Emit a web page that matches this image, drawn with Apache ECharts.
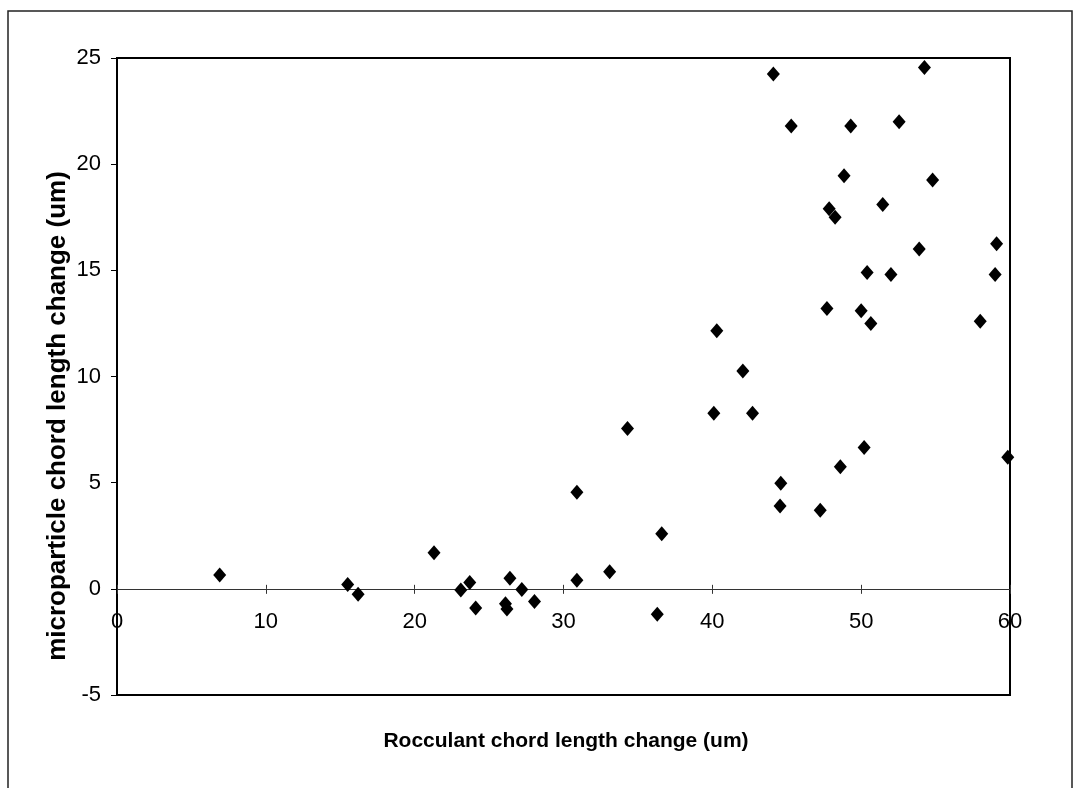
<!DOCTYPE html>
<html>
<head>
<meta charset="utf-8">
<script src="https://cdn.jsdelivr.net/npm/echarts@6/dist/echarts.min.js"></script>
<style>
html,body{margin:0;padding:0;background:#fff;}
#chart{width:1075px;height:788px;}
</style>
</head>
<body>
<div id="chart"></div>
<script>
// Flocculant chord length change (um)
var xValues = [6.9, 15.5, 16.2, 21.3, 23.1, 23.7, 24.1, 26.4, 26.1, 26.2, 27.2, 28.05, 30.9, 30.9, 33.1, 34.3, 36.6, 36.3, 40.1, 40.3, 42.05, 42.7, 44.6, 44.55, 47.25, 48.6, 50.2, 44.1, 45.3, 49.3, 52.55, 54.25, 48.85, 54.8, 47.85, 48.25, 51.45, 53.9, 59.1, 50.4, 52.0, 59.0, 47.7, 50.0, 50.65, 58.0, 59.85];
// microparticle chord length change (um)
var yValues = [0.65, 0.2, -0.25, 1.7, -0.05, 0.3, -0.9, 0.5, -0.7, -0.95, -0.03, -0.6, 0.4, 4.55, 0.8, 7.55, 2.6, -1.2, 8.27, 12.15, 10.26, 8.27, 4.97, 3.9, 3.7, 5.75, 6.66, 24.25, 21.8, 21.8, 22.0, 24.55, 19.45, 19.25, 17.9, 17.5, 18.1, 16.0, 16.25, 14.9, 14.8, 14.8, 13.2, 13.1, 12.5, 12.6, 6.2];
var xTitle = 'Rocculant chord length change (um)';
var yTitle = 'microparticle chord length change (um)';
var xRange = [0, 60, 10];
var yRange = [-5, 25, 5];

var points = xValues.map(function (x, i) { return [x, yValues[i]]; });
var FONT = '"Liberation Sans", Arial, sans-serif';

var GRID_TOP = 58, GRID_BOTTOM = 93, CHART_H = 788;
var plotH = CHART_H - GRID_TOP - GRID_BOTTOM;
// shift x axis from the bottom edge up to the y = 0 line
var zeroOffset = -plotH * (0 - yRange[0]) / (yRange[1] - yRange[0]);

var chart = echarts.init(document.getElementById('chart'), null, {renderer: 'canvas'});
chart.setOption({
  animation: false,
  backgroundColor: '#fff',
  grid: {
    left: 117, right: 65, top: GRID_TOP, bottom: GRID_BOTTOM,
    show: true, borderColor: '#000', borderWidth: 2, backgroundColor: 'transparent'
  },
  xAxis: [{
    type: 'value', min: xRange[0], max: xRange[1], interval: xRange[2],
    position: 'bottom', offset: zeroOffset,
    axisLine: {show: true, onZero: false, lineStyle: {color: '#333', width: 1}},
    axisTick: {show: true, inside: false, length: 5, lineStyle: {color: '#333'}},
    axisLabel: {margin: 22, color: '#000', fontSize: 22, fontFamily: FONT},
    splitLine: {show: false}
  }, {
    type: 'value', min: xRange[0], max: xRange[1], interval: xRange[2],
    position: 'bottom', offset: zeroOffset,
    axisLine: {show: false, onZero: false},
    axisTick: {show: true, inside: true, length: 4, lineStyle: {color: '#333'}},
    axisLabel: {show: false},
    splitLine: {show: false}
  }],
  yAxis: {
    type: 'value', min: yRange[0], max: yRange[1], interval: yRange[2],
    axisLine: {show: true, onZero: false, lineStyle: {color: '#000', width: 2}},
    axisTick: {show: true, inside: false, length: 6, lineStyle: {color: '#000'}},
    axisLabel: {margin: 16, color: '#000', fontSize: 22, fontFamily: FONT},
    splitLine: {show: false}
  },
  series: [{
    type: 'scatter',
    xAxisIndex: 0,
    data: points,
    symbol: 'diamond',
    symbolSize: [13, 15],
    itemStyle: {color: '#000', opacity: 1}
  }],
  graphic: [
    {
      type: 'rect', silent: true, z: -1,
      shape: {x: 8, y: 11, width: 1064, height: 820},
      style: {fill: 'none', stroke: '#222', lineWidth: 1.5}
    },
    {
      type: 'text', x: 566, y: 741,
      style: {text: xTitle, fontSize: 21, fontWeight: 'bold', fontFamily: FONT, fill: '#000', align: 'center', verticalAlign: 'middle'}
    },
    {
      type: 'text', x: 58, y: 416, rotation: Math.PI / 2,
      style: {text: yTitle, fontSize: 26, fontWeight: 'bold', fontFamily: FONT, fill: '#000', align: 'center', verticalAlign: 'middle'}
    }
  ]
});
</script>
</body>
</html>
